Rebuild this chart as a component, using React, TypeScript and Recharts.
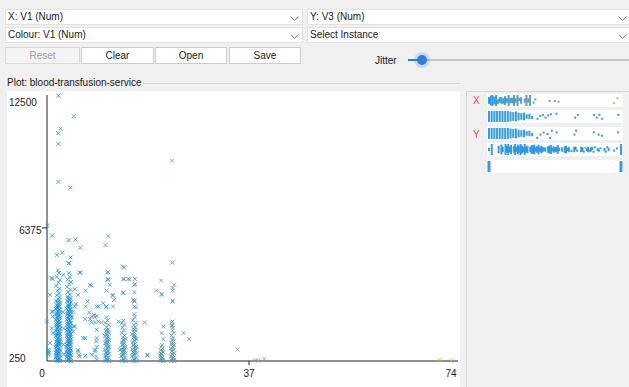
import React from 'react';
import { ScatterChart, Scatter, XAxis, YAxis } from 'recharts';

const xTicks = [0, 37, 74];
const yTicks = [250, 6375, 12500];
const xDomain: [number, number] = [0, 74];
const yDomain: [number, number] = [250, 12500];

type P = [number, number];

const col2: P[] = [
  [1.7,250],[2.1,260],[2.4,240],[1.9,330],[2.3,360],[1.6,410],[2.0,450],[2.4,500],[1.8,520],[2.2,580],[1.6,640],[2.0,690],[2.4,730],[1.8,780],[2.2,820],[1.6,880],[2.0,940],[2.4,980],[1.8,1020],[2.2,1080],[1.7,1130],[2.1,1180],[2.4,1230],[1.9,1270],[2.2,1330],[1.6,1380],[2.0,1430],[2.4,1480],[1.8,1520],[2.2,1570],[1.6,1630],[2.0,1680],[2.4,1720],[1.8,1770],[2.2,1830],[1.7,1880],[2.1,1920],[2.4,1980],[1.9,2020],[2.2,2080],[1.6,2130],[2.0,2170],[2.4,2230],[1.8,2270],[2.2,2330],[1.7,2380],[2.1,2420],[2.4,2480],[1.9,2520],[2.2,2580],[1.6,2640],[2.0,2690],[2.3,2750],[1.8,2800],[2.1,2870],[2.4,2930],[1.7,3010],[2.0,3080],[2.3,3180],[1.8,3270],[2.2,3350],[1.9,3480],[2.3,3560],[1.7,3700],[2.1,3850],[2.4,3960],[1.8,4120],[2.2,4300],[2.0,4420],
  [2.0,300],[1.8,600],[2.3,660],[1.9,900],[2.1,1000],[1.7,750],[2.3,1100],
  [1.9,280],[2.2,390],[1.7,470],[2.1,550],[1.9,710],[2.3,800],[1.7,960],[2.0,1060],[2.3,1160],[1.8,1210],[2.0,1300],[2.3,1400],[1.8,1460],[2.0,1550],[2.3,1610],[1.8,1700],[2.0,1800],[2.3,1860],[1.8,1950],[2.0,2050],[2.3,2110],[1.8,2200],[2.0,2300],[2.3,2360],[1.8,2450],[2.0,2550],[2.3,2620],[1.8,2700],[2.0,2780],[2.2,2850],[1.9,2950],[2.2,3030],
];

const col4: P[] = [
  [3.7,250],[4.1,270],[4.4,240],[3.9,340],[4.3,380],[3.6,420],[4.0,470],[4.4,510],[3.8,560],[4.2,600],[3.6,650],[4.0,700],[4.4,740],[3.8,790],[4.2,840],[3.6,890],[4.0,930],[4.4,990],[3.8,1030],[4.2,1090],[3.7,1140],[4.1,1190],[4.4,1240],[3.9,1280],[4.2,1340],[3.6,1390],[4.0,1440],[4.4,1490],[3.8,1530],[4.2,1580],[3.6,1640],[4.0,1690],[4.4,1730],[3.8,1780],[4.2,1840],[3.7,1890],[4.1,1930],[4.4,1990],[3.9,2030],[4.2,2090],[3.6,2140],[4.0,2180],[4.4,2240],[3.8,2280],[4.2,2340],[3.7,2390],[4.1,2430],[4.4,2490],[3.9,2530],[4.2,2590],[3.6,2650],[4.0,2700],[4.3,2760],[3.8,2810],[4.1,2880],[4.4,2940],[3.7,3000],[4.0,3060],[4.3,3140],[3.8,3220],[4.2,3300],[3.9,3420],[4.3,3520],[3.7,3650],[4.1,3790],[4.4,3880],[3.8,3990],[4.2,4120],
  [4.0,310],[3.8,610],[4.3,660],[3.9,910],[4.1,1010],[3.7,760],[4.3,1110],
  [3.9,290],[4.2,400],[3.7,490],[4.1,540],[3.9,720],[4.3,810],[3.7,970],[4.0,1060],[4.3,1170],[3.8,1220],[4.0,1310],[4.3,1410],[3.8,1470],[4.0,1560],[4.3,1620],[3.8,1710],[4.0,1810],[4.3,1870],[3.8,1960],[4.0,2060],[4.3,2120],[3.8,2210],[4.0,2310],[4.3,2370],[3.8,2460],[4.0,2560],[4.3,2630],[3.8,2720],[4.0,2790],[4.2,2860],[3.9,2960],[4.2,3040],[3.9,3130],
];

const col11: P[] = [
  [10.7,250],[11.1,270],[11.4,240],[10.9,350],[11.3,400],[10.6,450],[11.0,520],[11.4,580],[10.8,640],[11.2,700],[10.6,760],[11.0,820],[11.4,880],[10.8,940],[11.2,1000],[10.7,1070],[11.1,1130],[11.4,1200],[10.9,1260],[11.2,1330],[10.6,1400],[11.0,1460],[11.3,1540],[10.8,1620],[11.2,1700],[10.9,1800],[11.3,1900],[10.7,2000],[11.1,2120],[10.9,2260],[11.0,300],[10.8,480],[11.2,900],[11.0,1080],
  [10.9,600],[11.1,740],[10.9,1160],[11.1,1380],[10.8,1500],[11.0,1660],
];

const col14: P[] = [
  [13.7,250],[14.1,270],[14.4,240],[13.9,350],[14.3,400],[13.6,460],[14.0,530],[14.4,590],[13.8,650],[14.2,710],[13.6,780],[14.0,840],[14.4,900],[13.8,970],[14.2,1040],[13.7,1110],[14.1,1180],[14.4,1260],[13.9,1330],[14.2,1420],[13.7,1530],[14.1,1650],[13.8,1780],[14.2,1900],[14.0,2100],[14.0,300],[13.8,520],[14.2,860],
  [13.9,620],[14.1,750],[13.9,1010],[14.0,1220],
];

const col16: P[] = [
  [15.7,250],[16.1,270],[16.4,240],[15.9,350],[16.3,400],[15.6,460],[16.0,530],[16.4,590],[15.8,650],[16.2,710],[15.6,780],[16.0,840],[16.4,900],[15.8,970],[16.2,1040],[15.7,1110],[16.1,1180],[16.4,1260],[15.9,1330],[16.2,1400],[15.6,1480],[16.0,1560],[16.3,1640],[15.8,1720],[16.2,1800],[15.9,1900],[16.3,2000],[15.7,2120],[16.1,2250],[16.0,2400],[16.0,300],[15.8,520],[16.2,880],[16.0,1200],
  [15.9,620],[16.1,760],[15.9,1000],[16.1,1300],[15.9,1440],[16.0,1680],
];

const col21: P[] = [
  [20.8,250],[21.2,270],[21.3,240],[20.9,350],[21.1,420],[20.7,500],[21.0,580],[21.3,650],[20.8,730],[21.2,820],[20.9,900],[21.1,980],[21.0,300],[20.9,560],
  [21.1,380],[20.9,460],[21.1,700],
];

const col23: P[] = [
  [22.8,250],[23.2,270],[23.3,240],[22.9,350],[23.2,400],[22.7,460],[23.0,530],[23.3,600],[22.8,670],[23.2,740],[22.7,820],[23.0,900],[23.3,980],[22.8,1060],[23.2,1140],[22.9,1220],[23.1,1320],[22.8,1420],[23.2,1530],[23.0,1640],[22.9,1850],[23.0,300],[22.9,560],
  [23.1,390],[22.9,700],[23.1,860],[22.9,1000],[23.0,1180],
];

const sparse: P[] = [
  [2.07,12470],[4.9,11520],[2.5,10950],[2.07,10735],[2.07,10245],[22.9,9475],[2.07,8495],[4.27,8230],[0.05,6480],
  [0.97,6020],[4.0,5810],[5.2,5835],[11.2,5990],[10.7,5580],[6.1,5455],[1.8,5130],[2.8,5235],[4.3,5005],[4.0,4730],[14.1,4545],[1.0,4025],[3.0,4210],[4.0,4290],[6.1,4315],[11.2,4335],[11.1,3980],[11.5,3750],[8.1,3720],[14.0,4025],[14.9,4025],[16.1,4025],[16.1,3780],[10.9,3485],[14.0,3395],
  [22.95,4775],[20.9,3950],[23.3,3750],[23.0,3600],[16.0,3410],[20.0,3485],[21.0,3335],[21.0,3290],[23.0,3485],[16.0,3015],[23.0,3015],[16.3,2705],[17.9,2015],[22.8,2015],[21.3,1830],[21.0,1525],[21.3,1250],[23.0,1755],[25.0,1525],[26.0,1250],[34.9,770],[18.4,495],
  [38.1,265],[38.7,265],[39.8,330],[71.9,295],[74.0,250],
  [0,2060],[0.25,755],[0.3,620],[0.85,4060],[0.55,3290],[0.9,2520],[1.1,2520],[0.85,1755],[1.04,2290],[1.15,1525],[0.55,1065],[0.24,680],[0.24,527],
  [4.0,4750],[6.0,4315],[5.1,3550],[5.3,2860],[5.1,2750],[5.7,3290],[4.8,1830],[4.8,1600],[5.7,755],[5.9,525],
  [7.1,3485],[7.9,3750],[7.4,2980],[7.1,2750],[7.75,2475],[8.2,2290],[8.6,2370],[9.4,2060],[7.0,2170],[7.9,2170],[6.65,1295],[7.0,1295],[6.0,450],[7.0,480],[8.2,525],[8.8,680],[9.1,1295],[9.0,1140],[9.1,880],[9.1,295],[9.1,1680],[9.1,2750],
  [10.3,2905],[10.8,2725],[11.0,4315],[11.2,4010],[12.0,3245],[12.3,3060],[12.1,2750],
  [13.9,4595],[14.1,4010],[15.1,4010],[13.9,3365],[13.4,755],
  [16,3750],[16,2980],[16,2750],[18.4,525],[23,2980],[23,2060],[22.9,1910],
  [8.2,2015],[8.8,2015],[10,2015],[9.4,2750],[10.9,2750],[12.1,3290],[5.7,680],[8.8,755],[9,450],[8.8,2260],[9.1,2320],[5.1,1830],[4.5,2290],[4.8,2520],[13.1,2060],[13.7,1985],[15.8,3060],
  [3.0,1000],[3.0,1750],[2.9,2500],[3.1,550],
];

// strip plots: [value, yFraction, barHeight, colourKey]
type S = [number, number, number, number?];
const strip1: S[] = [
  [0,.5,.6],[1,.5,.9],[2,.5,1],[3,.5,.7],[4,.5,1],[5,.4,.4],[6,.55,.5],[7,.5,.6],[8,.45,.5],[9,.5,.8],[10,.5,.4],[11,.5,1],[12,.5,.5],[13,.5,.5],[14,.5,1],[15,.5,.4],[16,.5,1],[17,.6,.3],[18,.5,.6],[20,.5,.4],[21,.5,1],[22,.5,.4],[23,.5,1],[25,.3,0],[26,.6,0],[34,.45,0],[37,.45,0],[39,.4,0],[70,.25,0],[72,.7,0],
];
const strip2: S[] = [
  [1,.5,1],[2,.5,1],[3,.5,1],[4,.5,1],[5,.5,1],[6,.5,1],[7,.5,1],[8,.5,1],[9,.5,.9],[10,.5,.8],[11,.5,.9],[12,.5,.7],[13,.5,.6],[14,.5,.7],[15,.5,.4],[16,.5,.5],[17,.4,.3],[19,.3,0],[20,.55,0],[21,.65,0],[22,.4,0],[23,.6,0],[24,.7,0],[26,.75,0],[33,.4,0],[34,.65,0],[40,.65,0],[41,.4,0],[42,.65,0],[43,.3,0],[49,.65,0],
];
const strip3: S[] = [
  [250,.5,1],[500,.5,1],[750,.5,1],[1000,.5,1],[1250,.5,1],[1500,.5,1],[1750,.5,1],[2000,.5,1],[2250,.5,.9],[2500,.5,.8],[2750,.5,.9],[3000,.5,.7],[3250,.5,.6],[3500,.5,.7],[3750,.5,.4],[4000,.5,.5],[4250,.4,.3],[4727,.1,0],[5024,.4,0],[5321,.6,0],[5681,.45,0],[5924,.1,0],[6077,.75,0],[6528,.6,0],[8176,.4,0],[8329,.75,0],[9978,.6,0],[10428,.4,0],[10725,.3,0],[12230,.6,0],
];
const strip4: S[] = [
  [2,.5,.3],[4,.5,1],[9,.5,.7],[11,.5,.9],[12,.5,.5],[14,.5,1],[15,.5,.6],[16,.5,1],[17,.5,.5],[18,.5,.8],[20,.5,.6],[21,.5,1],[22,.5,.5],[23,.5,.9],[24,.5,.6],[25,.5,1],[26,.5,.7],[27,.5,.5],[28,.5,1],[29,.5,.5],[30,.5,.7],[32,.5,.5],[33,.5,.8],[34,.5,.7],[35,.5,.9],[36,.5,.4],[37,.5,.6],[38,.5,.9],[39,.5,.4],[40,.5,.7],[41,.5,.5],[42,.5,.3],[43,.5,.4],[45,.5,.6],[46,.5,.7],[47,.5,.8],[48,.5,.3],[49,.5,.6],[50,.5,.4],[51,.5,.5],[52,.5,.8],[53,.5,.3],[55,.5,.4],[57,.5,.6],[58,.5,.7],[59,.5,.3],[60,.5,.5],[62,.35,0],[64,.5,.5],[65,.6,.3],[66,.4,0],[69,.5,.5],[70,.5,.4],[71,.3,0],[72,.68,0,72],[73,.5,.3],[74,.5,.5],[75,.4,0],[76,.5,.4],[77,.6,.3],[78,.3,0],[79,.7,0],[81,.5,.3],[82,.4,0],[83,.6,0],[86,.5,.3],[87,.3,0],[88,.7,0],[89,.5,.3],[93,.4,0],[95,.6,0],[98,.5,1],
];
const strip5: S[] = [[0,.5,1],[1,.5,1]];

const allPoints = [...col2, ...col4, ...col11, ...col14, ...col16, ...col21, ...col23, ...sparse].map(([x, y]) => ({ x, y }));
const toStrip = (arr: S[], key: boolean) => arr.map(([x, y, h, c]) => ({ x, y, h, c: c !== undefined ? c : key ? x : 3 }));

const colorFor = (v: number) => {
  const t = Math.max(0, Math.min(1, v / 74));
  const r = Math.round(25 + (240 - 25) * t);
  const g = Math.round(145 + (160 - 145) * t);
  const b = Math.round(225 + (40 - 225) * t);
  return `rgb(${r},${g},${b})`;
};

const FONT = "'Liberation Sans', Arial, sans-serif";

const CrossMark = (props: any) => {
  const { cx, cy, payload } = props;
  if (cx == null || cy == null) return null;
  const c = colorFor(payload.x);
  const s = 2;
  return (
    <g stroke={c} strokeWidth={1} strokeOpacity={0.8}>
      <line x1={cx - s} y1={cy - s} x2={cx + s} y2={cy + s} />
      <line x1={cx - s} y1={cy + s} x2={cx + s} y2={cy - s} />
    </g>
  );
};

const XTick = (props: any) => {
  const { x, y, payload, index } = props;
  const dx = index === 0 ? -5 : 0;
  return (
    <g>
      {index === 1 && <line x1={x} x2={x} y1={y} y2={y + 4} stroke="#222" />}
      <text x={x + dx} y={y + 15.5} textAnchor="middle" fontSize={10} fill="#222" fontFamily={FONT}>{payload.value}</text>
    </g>
  );
};

const YTick = (props: any) => {
  const { x, y, payload } = props;
  const v = payload.value;
  if (v === yTicks[1]) {
    return (
      <g>
        <line x1={x - 5} x2={x} y1={y} y2={y} stroke="#222" />
        <text x={x - 5.5} y={y + 6} textAnchor="end" fontSize={10} fill="#222" fontFamily={FONT}>{v}</text>
      </g>
    );
  }
  const dy = v === yTicks[2] ? 11 : 1;
  return <text x={2} y={y + dy} textAnchor="start" fontSize={10} fill="#222" fontFamily={FONT}>{v}</text>;
};

const StripMark = (props: any) => {
  const { cx, cy, payload, wide } = props;
  if (cx == null || cy == null) return null;
  const hh = Math.max(2, payload.h * 11);
  const w = wide ? 3 : 2;
  return <rect x={cx - w / 2} y={cy - hh / 2} width={w} height={hh} fill={colorFor(payload.c)} fillOpacity={0.9} />;
};

const Strip = ({ data, domain, top, wide }: { data: any[]; domain: [number, number]; top: number; wide?: boolean }) => (
  <div style={{ position: 'absolute', left: 487, top, width: 136, height: 13, background: '#fff' }}>
    <ScatterChart width={136} height={13} margin={{ top: 1, right: 2, bottom: 1, left: 2 }}>
      <XAxis type="number" dataKey="x" domain={domain} hide />
      <YAxis type="number" dataKey="y" domain={[0, 1]} hide />
      <Scatter data={data} isAnimationActive={false} shape={(p: any) => <StripMark {...p} wide={wide} />} />
    </ScatterChart>
  </div>
);

const Chevron = ({ left }: { left: number }) => (
  <svg style={{ position: 'absolute', left, top: 6 }} width={9} height={5}>
    <polyline points="0.5,0.5 4.5,4.5 8.5,0.5" fill="none" stroke="#808080" strokeWidth={1} />
  </svg>
);

const Combo = ({ left, top, width, text }: { left: number; top: number; width: number; text: string }) => (
  <div style={{ position: 'absolute', left, top, width, height: 16, background: '#fff', border: '1px solid #e2e2e2', boxSizing: 'border-box', fontSize: 10, lineHeight: '14px', paddingLeft: 2, color: '#1a1a1a', fontFamily: FONT }}>
    {text}
    <Chevron left={width - 14} />
  </div>
);

const Btn = ({ left, width, text, disabled }: { left: number; width: number; text: string; disabled?: boolean }) => (
  <div style={{ position: 'absolute', left, top: 47, width, height: 17, boxSizing: 'border-box', border: '1px solid ' + (disabled ? '#d8d8d8' : '#cccccc'), background: disabled ? '#f4f4f4' : '#fff', color: disabled ? '#a0a0a0' : '#1a1a1a', fontSize: 10, lineHeight: '15px', textAlign: 'center', fontFamily: FONT }}>
    {text}
  </div>
);

export default function App() {
  return (
    <div style={{ position: 'absolute', left: 0, top: 0, width: 629, height: 387, background: '#f0f0f0', overflow: 'hidden', fontFamily: FONT }}>
      <Combo left={5} top={9} width={298} text="X: V1 (Num)" />
      <Combo left={307} top={9} width={324} text="Y: V3 (Num)" />
      <Combo left={5} top={27} width={298} text="Colour: V1 (Num)" />
      <Combo left={307} top={27} width={324} text="Select Instance" />
      <Btn left={5} width={75} text="Reset" disabled />
      <Btn left={81} width={73} text="Clear" />
      <Btn left={155} width={72} text="Open" />
      <Btn left={229} width={72} text="Save" />
      <div style={{ position: 'absolute', left: 375, top: 55, fontSize: 10, lineHeight: '12px', color: '#1a1a1a' }}>Jitter</div>
      <svg style={{ position: 'absolute', left: 405, top: 50 }} width={224} height={20}>
        <rect x={3} y={9} width={221} height={2} fill="#c4c4c4" />
        <rect x={3} y={9} width={14} height={2} fill="#2a7fd6" />
        <circle cx={17} cy={10} r={8} fill="#2a7fd6" fillOpacity={0.18} />
        <circle cx={17} cy={10} r={5} fill="#2a7fd6" />
      </svg>
      <div style={{ position: 'absolute', left: 7, top: 77, fontSize: 10, lineHeight: '12px', color: '#1a1a1a' }}>Plot: blood-transfusion-service</div>
      <div style={{ position: 'absolute', left: 143, top: 83, width: 317, height: 1, background: '#d6d6d6' }} />
      <div style={{ position: 'absolute', left: 7, top: 91, width: 453, height: 296, background: '#fff' }} />
      <div style={{ position: 'absolute', left: 7, top: 92 }}>
        <ScatterChart width={453} height={295} margin={{ top: 3, right: 2, bottom: 0, left: 0 }}>
          <XAxis type="number" dataKey="x" domain={xDomain} ticks={xTicks} interval={0} height={26} padding={{ left: 0, right: 7 }} axisLine={{ stroke: '#222' }} tickLine={false} tickSize={0} tickMargin={0} tick={<XTick />} />
          <YAxis type="number" dataKey="y" domain={yDomain} ticks={yTicks} interval={0} width={40} axisLine={{ stroke: '#222' }} tickLine={false} tickSize={0} tickMargin={0} tick={<YTick />} />
          <Scatter data={allPoints} isAnimationActive={false} shape={CrossMark} />
        </ScatterChart>
      </div>
      <div style={{ position: 'absolute', left: 466, top: 91, width: 163, height: 296, background: '#f0f0f0', borderLeft: '1px solid #d6d6d6', borderTop: '1px solid #d6d6d6' }} />
      <div style={{ position: 'absolute', left: 473, top: 95, fontSize: 10, lineHeight: '12px', color: '#e04848' }}>X</div>
      <div style={{ position: 'absolute', left: 473, top: 129, fontSize: 10, lineHeight: '12px', color: '#e04848' }}>Y</div>
      <Strip data={toStrip(strip1, true)} domain={[0, 74]} top={94} />
      <Strip data={toStrip(strip2, false)} domain={[1, 50]} top={110} />
      <Strip data={toStrip(strip3, false)} domain={[250, 12500]} top={127} />
      <Strip data={toStrip(strip4, false)} domain={[2, 98]} top={143} />
      <Strip data={toStrip(strip5, false)} domain={[0, 1]} top={160} wide />
    </div>
  );
}
